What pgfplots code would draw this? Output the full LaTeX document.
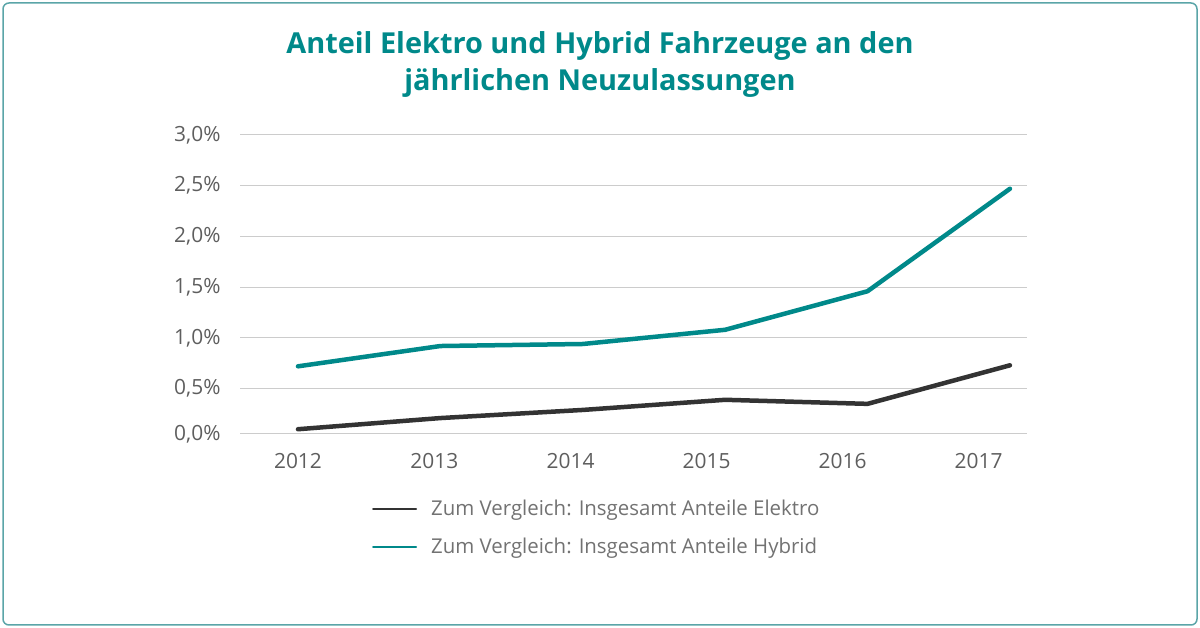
\documentclass[border=0pt]{standalone}
\usepackage{pgfplots}
\pgfplotsset{compat=1.18}
\usepackage{fontspec}
\setmainfont{Open Sans}
\definecolor{tealc}{HTML}{00898A}
\definecolor{darkc}{HTML}{333333}
\definecolor{framec}{HTML}{5AA5A8}
\definecolor{gridc}{HTML}{CCCCCC}
\definecolor{labc}{HTML}{5E5E5E}
\definecolor{legc}{HTML}{727272}
\begin{document}
\begin{tikzpicture}[x=1bp,y=1bp]
\useasboundingbox (0,0) rectangle (1200,628);
\draw[framec, line width=1.5bp, rounded corners=6bp] (3,3) rectangle (1197,625);
\node[text=tealc, font=\fontsize{29}{38}\selectfont\bfseries, align=center] at (600,563.5) {Anteil Elektro und Hybrid Fahrzeuge an den\\jährlichen Neuzulassungen};
\begin{axis}[
  at={(240bp,194bp)}, anchor=south west,
  width=787bp, height=299bp, scale only axis,
  xmin=2011.593, xmax=2017.12,
  ymin=0.053, ymax=3.0,
  axis line style={draw=none},
  axis x line*=bottom,
  xtick={2012,2012.958,2013.915,2014.87,2015.825,2016.78},
  xticklabels={2012,2013,2014,2015,2016,2017},
  ytick={0.053,0.5,1,1.5,2,2.5,3},
  yticklabels={0{,}0\%,0{,}5\%,1{,}0\%,1{,}5\%,2{,}0\%,2{,}5\%,3{,}0\%},
  major tick length=0pt,
  ymajorgrids, grid style={gridc, line width=1bp},
  xmajorgrids=false,
  ticklabel style={text=labc, font=\fontsize{21}{24}\selectfont},
  yticklabel style={anchor=east, xshift=-16bp},
  xticklabel style={anchor=center, yshift=-27bp},
  clip=false,
  legend style={at={(0.1677,-0.214)}, anchor=north west, draw=none, fill=none,
    font=\fontsize{20.5}{23}\selectfont, text=legc, row sep=17bp,
    inner sep=0pt, /tikz/every odd column/.append style={column sep=12bp}},
  legend cell align=left,
  legend image code/.code={\draw[#1, line width=2bp] (0bp,0bp) -- (43bp,0bp);},
]
\draw[gridc, line width=1bp] (axis cs:2011.593,0.053) -- (axis cs:2017.12,0.053);
\addplot[darkc, line width=4.5bp, line join=round, line cap=round] coordinates {
 (2012,0.10) (2013,0.21) (2014,0.29) (2015,0.39) (2016,0.35) (2017,0.73)};
\addlegendentry{Zum Vergleich: Insgesamt Anteile Elektro}
\addplot[tealc, line width=4.5bp, line join=round, line cap=round] coordinates {
 (2012,0.72) (2013,0.92) (2014,0.94) (2015,1.08) (2016,1.46) (2017,2.47)};
\addlegendentry{Zum Vergleich: Insgesamt Anteile Hybrid}
\end{axis}
\end{tikzpicture}
\end{document}
